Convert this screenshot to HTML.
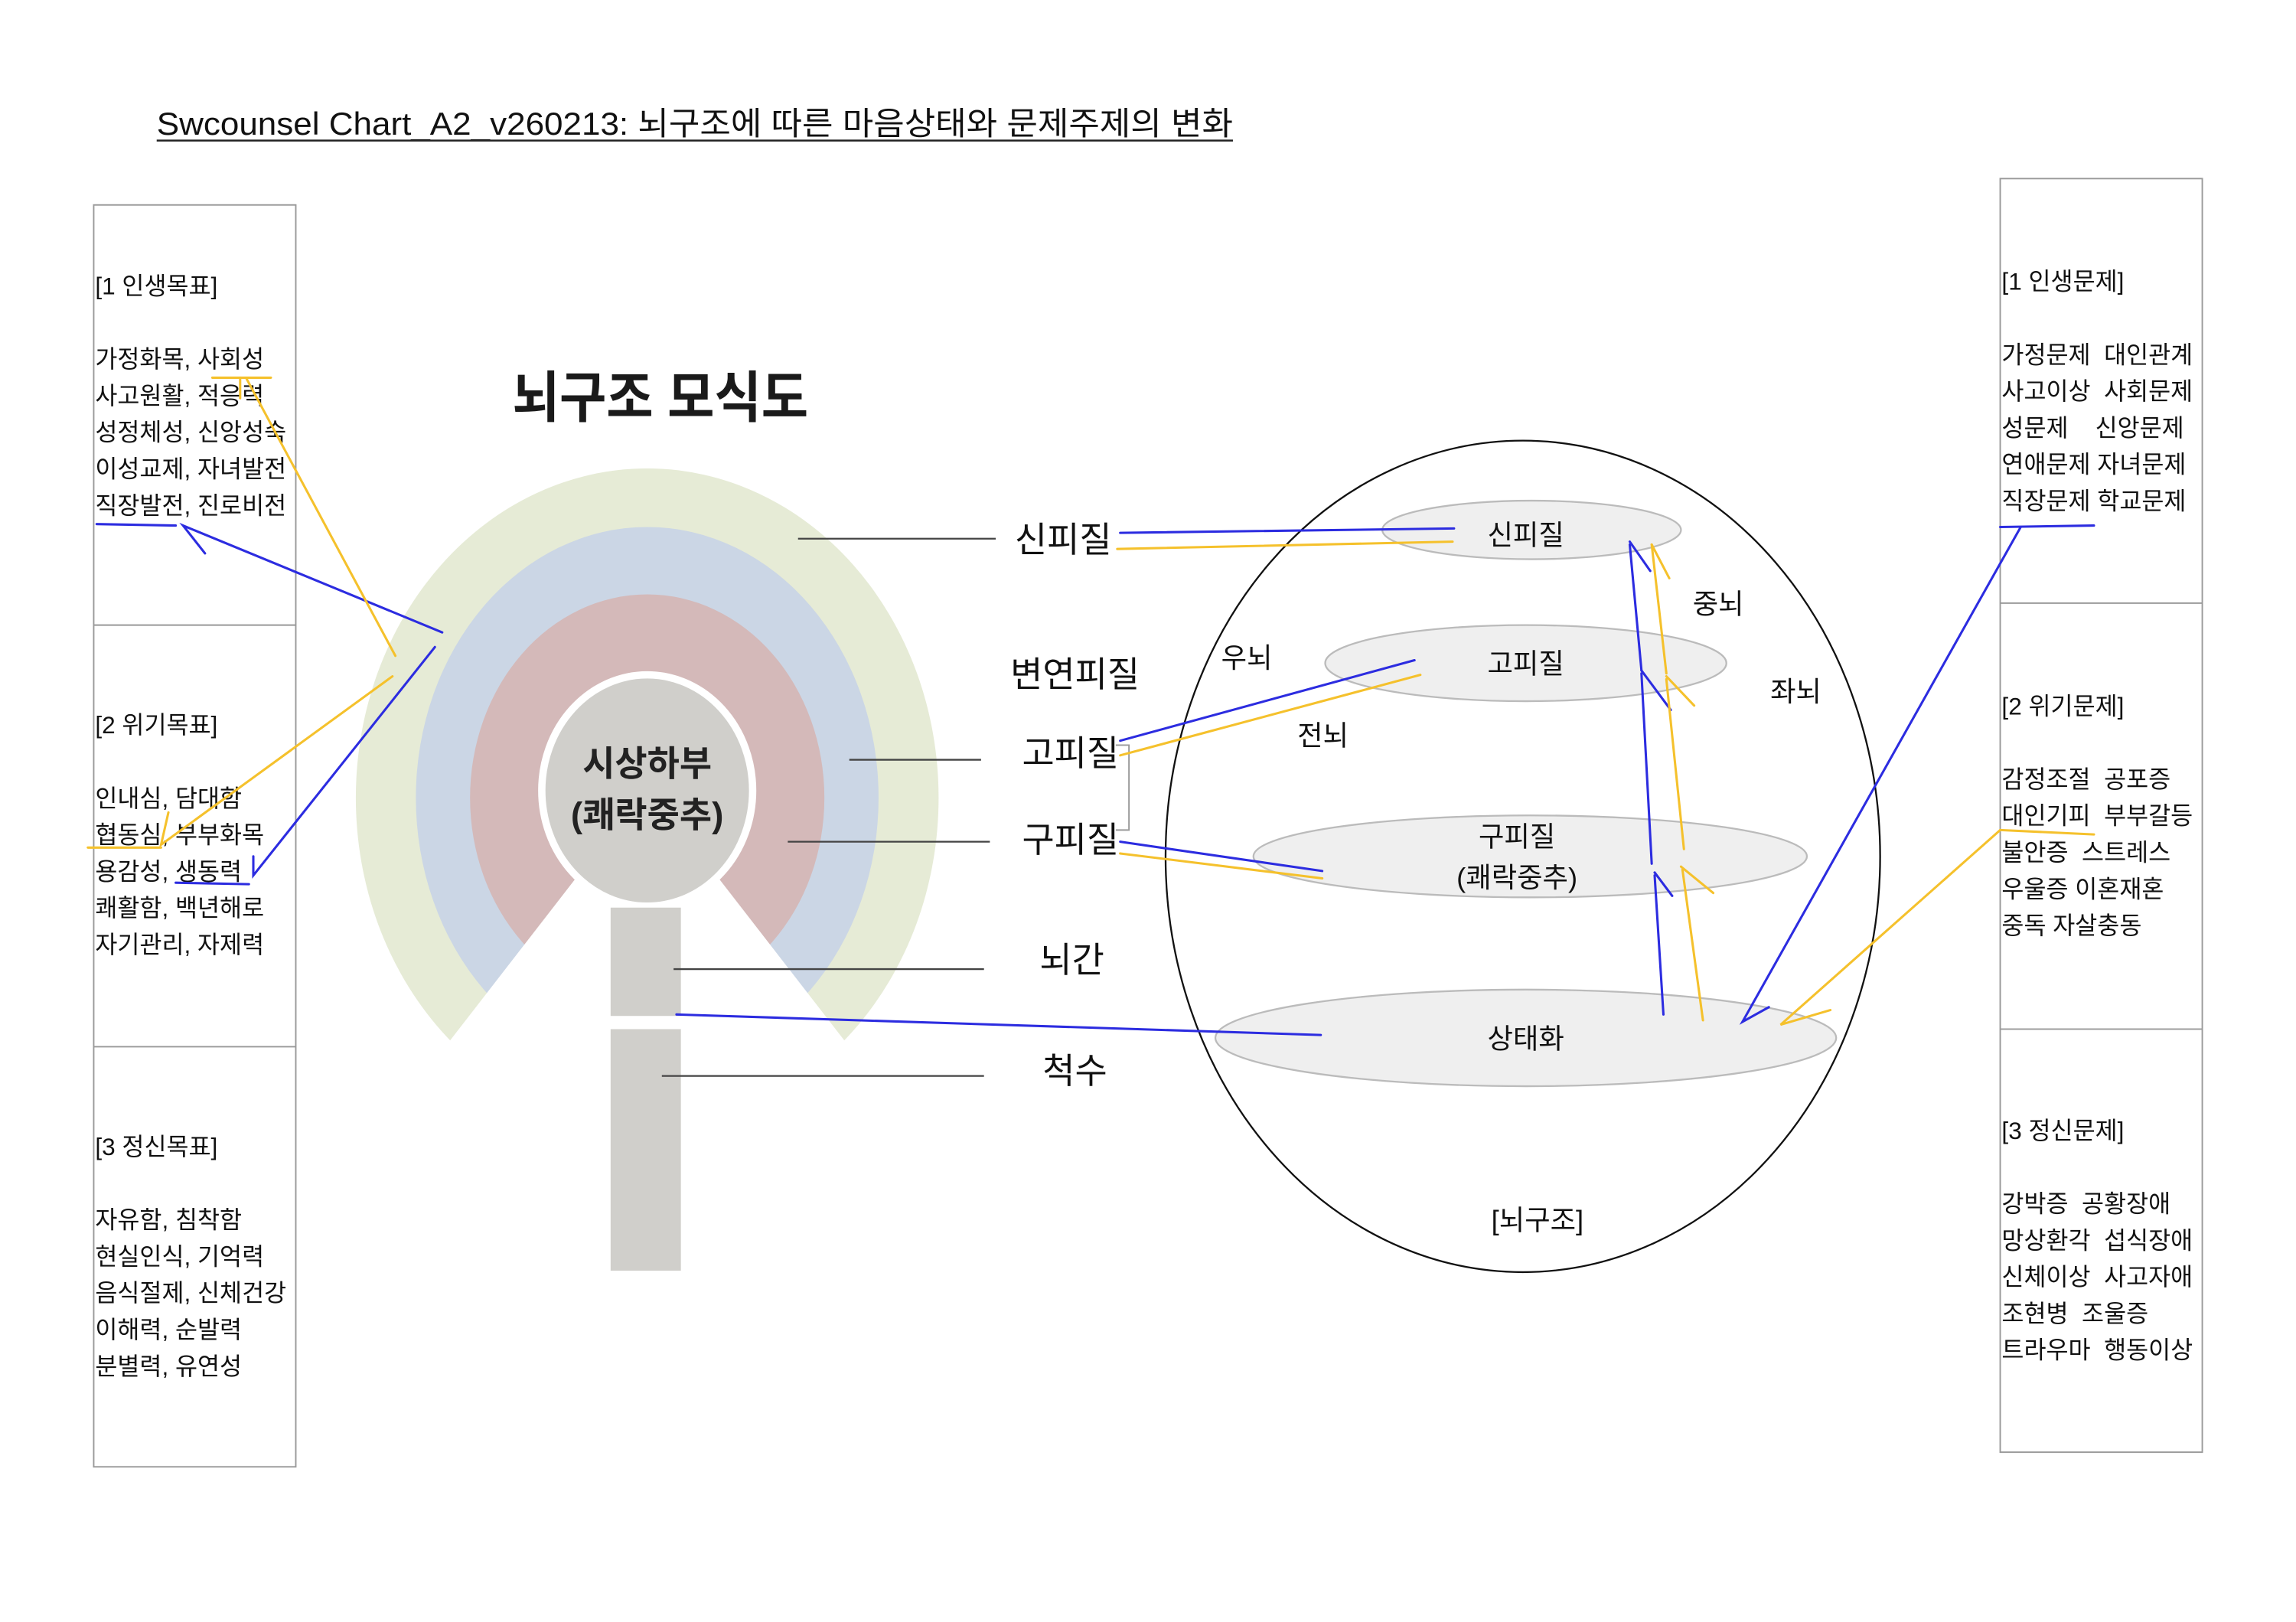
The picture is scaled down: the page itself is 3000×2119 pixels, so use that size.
<!DOCTYPE html>
<html><head><meta charset="utf-8"><style>
html,body{margin:0;padding:0;background:#fff;}
svg{display:block;}
text{font-family:"Liberation Sans","Noto Sans CJK KR",sans-serif;fill:#111;}
</style></head><body>
<svg width="3000" height="2119" viewBox="0 0 1568 1108" preserveAspectRatio="none" xmlns="http://www.w3.org/2000/svg">
<rect width="1568" height="1108" fill="#fff"/>
<text x="107" y="92" font-size="22" textLength="735" lengthAdjust="spacingAndGlyphs">Swcounsel Chart_A2_v260213: 뇌구조에 따른 마음상태와 문제주제의 변화</text>
<line x1="107" y1="96" x2="842" y2="96" stroke="#222" stroke-width="1.3"/>

<g stroke="#999" stroke-width="1" fill="none">
<rect x="64" y="140" width="138" height="862"/>
<line x1="64" y1="427" x2="202" y2="427"/><line x1="64" y1="715" x2="202" y2="715"/>
<rect x="1366" y="122" width="138" height="870"/>
<line x1="1366" y1="412" x2="1504" y2="412"/><line x1="1366" y1="703" x2="1504" y2="703"/>
</g>
<g font-size="16.5">
<text x="65" y="201">[1 인생목표]</text>
<text x="65" y="251">가정화목, 사회성</text>
<text x="65" y="276">사고원활, 적응력</text>
<text x="65" y="301">성정체성, 신앙성숙</text>
<text x="65" y="326">이성교제, 자녀발전</text>
<text x="65" y="351">직장발전, 진로비전</text>
<text x="65" y="501">[2 위기목표]</text>
<text x="65" y="551">인내심, 담대함</text>
<text x="65" y="576">협동심, 부부화목</text>
<text x="65" y="601">용감성, 생동력</text>
<text x="65" y="626">쾌활함, 백년해로</text>
<text x="65" y="651">자기관리, 자제력</text>
<text x="65" y="789">[3 정신목표]</text>
<text x="65" y="839">자유함, 침착함</text>
<text x="65" y="864">현실인식, 기억력</text>
<text x="65" y="889">음식절제, 신체건강</text>
<text x="65" y="914">이해력, 순발력</text>
<text x="65" y="939">분별력, 유연성</text>

<text x="1367" y="198">[1 인생문제]</text>
<text x="1367" y="248" xml:space="preserve">가정문제  대인관계</text>
<text x="1367" y="273" xml:space="preserve">사고이상  사회문제</text>
<text x="1367" y="298" xml:space="preserve">성문제    신앙문제</text>
<text x="1367" y="323">연애문제 자녀문제</text>
<text x="1367" y="348">직장문제 학교문제</text>
<text x="1367" y="488">[2 위기문제]</text>
<text x="1367" y="538" xml:space="preserve">감정조절  공포증</text>
<text x="1367" y="563" xml:space="preserve">대인기피  부부갈등</text>
<text x="1367" y="588" xml:space="preserve">불안증  스트레스</text>
<text x="1367" y="613">우울증 이혼재혼</text>
<text x="1367" y="638">중독 자살충동</text>
<text x="1367" y="778">[3 정신문제]</text>
<text x="1367" y="828" xml:space="preserve">강박증  공황장애</text>
<text x="1367" y="853" xml:space="preserve">망상환각  섭식장애</text>
<text x="1367" y="878" xml:space="preserve">신체이상  사고자애</text>
<text x="1367" y="903" xml:space="preserve">조현병  조울증</text>
<text x="1367" y="928" xml:space="preserve">트라우마  행동이상</text>
</g>

<text x="350" y="285" font-size="38" font-weight="bold" textLength="202" lengthAdjust="spacingAndGlyphs" style="fill:#1a1a1a">뇌구조 모식도</text>

<ellipse cx="442" cy="545" rx="199" ry="225" fill="#e6ebd6"/>
<ellipse cx="442" cy="545" rx="158" ry="185" fill="#cbd6e5"/>
<ellipse cx="442" cy="545" rx="121" ry="139" fill="#d4b9b9"/>
<polygon points="442,537 232,808 652,808" fill="#fff"/>
<ellipse cx="442" cy="540" rx="72" ry="79" fill="#d0cfcb" stroke="#fff" stroke-width="5"/>
<text x="442" y="530" font-size="24" font-weight="bold" text-anchor="middle" style="fill:#222">시상하부</text>
<text x="442" y="565" font-size="24" font-weight="bold" text-anchor="middle" style="fill:#222">(쾌락중추)</text>
<rect x="417" y="620" width="48" height="74" fill="#d0cfcb"/>
<rect x="417" y="703" width="48" height="165" fill="#d0cfcb"/>

<g stroke="#444" stroke-width="1.2">
<line x1="545" y1="368" x2="680" y2="368"/>
<line x1="580" y1="519" x2="670" y2="519"/>
<line x1="538" y1="575" x2="676" y2="575"/>
<line x1="460" y1="662" x2="672" y2="662"/>
<line x1="452" y1="735" x2="672" y2="735"/>
</g>
<g font-size="24">
<text x="693" y="377">신피질</text>
<text x="690" y="469">변연피질</text>
<text x="698" y="523">고피질</text>
<text x="698" y="582">구피질</text>
<text x="710" y="664">뇌간</text>
<text x="712" y="740">척수</text>
</g>
<path d="M762,509 h9 v58 h-9" fill="none" stroke="#999" stroke-width="1"/>

<ellipse cx="1040" cy="585" rx="244" ry="284" fill="none" stroke="#111" stroke-width="1.2"/>
<g fill="#efefef" stroke="#bbb" stroke-width="1.2">
<ellipse cx="1046" cy="362" rx="102" ry="20"/>
<ellipse cx="1042" cy="453" rx="137" ry="26"/>
<ellipse cx="1045" cy="585" rx="189" ry="28"/>
<ellipse cx="1042" cy="709" rx="212" ry="33"/>
</g>
<g font-size="19">
<text x="1042" y="372" text-anchor="middle">신피질</text>
<text x="1042" y="460" text-anchor="middle">고피질</text>
<text x="1036" y="578" text-anchor="middle">구피질</text>
<text x="1036" y="606" text-anchor="middle">(쾌락중추)</text>
<text x="1042" y="716" text-anchor="middle">상태화</text>
<text x="1050" y="840" text-anchor="middle">[뇌구조]</text>
<text x="834" y="456">우뇌</text>
<text x="1156" y="419">중뇌</text>
<text x="1209" y="479">좌뇌</text>
<text x="886" y="509">전뇌</text>
</g>

<g stroke="#2c2ce0" stroke-width="1.6" fill="none" stroke-linecap="round">
<line x1="765" y1="364" x2="993" y2="361"/>
<line x1="765" y1="506" x2="966" y2="451"/>
<line x1="765" y1="575" x2="903" y2="595"/>
<line x1="462" y1="693" x2="902" y2="707"/>
<polyline points="302,432 125,359 140,378"/>
<line x1="66" y1="358" x2="120" y2="359"/>
<polyline points="297,442 173,598 173,585"/>
<line x1="120" y1="603" x2="170" y2="604"/>
<polyline points="1380,360 1190,698 1208,688"/>
<line x1="1366" y1="360" x2="1430" y2="359"/>
<polyline points="1113,370 1127,390"/>
<line x1="1113" y1="372" x2="1121" y2="458"/>
<polyline points="1121,458 1141,485"/>
<line x1="1121" y1="460" x2="1128" y2="590"/>
<polyline points="1130,596 1142,612"/>
<line x1="1130" y1="598" x2="1136" y2="693"/>
</g>
<g stroke="#f5c12c" stroke-width="1.6" fill="none" stroke-linecap="round">
<line x1="763" y1="375" x2="992" y2="370"/>
<line x1="765" y1="516" x2="970" y2="461"/>
<line x1="765" y1="583" x2="903" y2="600"/>
<line x1="270" y1="448" x2="168" y2="258"/>
<line x1="145" y1="258" x2="185" y2="258"/>
<line x1="164" y1="258" x2="164" y2="272"/>
<polyline points="268,462 110,577 115,555"/>
<line x1="60" y1="579" x2="110" y2="579"/>
<polyline points="1366,567 1216,700 1250,690"/>
<line x1="1366" y1="567" x2="1430" y2="570"/>
<polyline points="1128,372 1140,395"/>
<line x1="1128" y1="372" x2="1138" y2="460"/>
<polyline points="1138,462 1157,482"/>
<line x1="1138" y1="464" x2="1150" y2="580"/>
<polyline points="1148,592 1170,610"/>
<line x1="1149" y1="594" x2="1163" y2="697"/>
</g>
</svg>
</body></html>
